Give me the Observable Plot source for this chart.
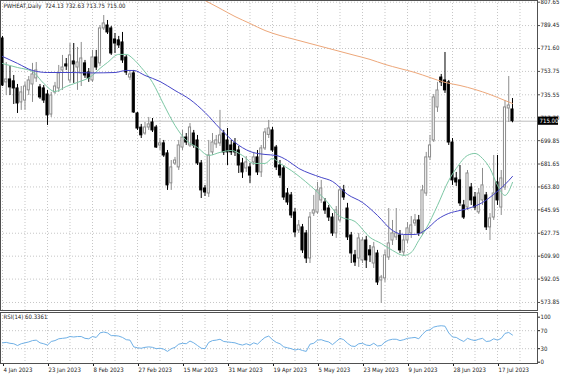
<!DOCTYPE html>
<html><head><meta charset="utf-8">
<script src="https://cdn.jsdelivr.net/npm/d3@7"></script>
<script src="https://cdn.jsdelivr.net/npm/@observablehq/plot@0.6"></script>
<style>
html,body{margin:0;padding:0;background:#fff;}
#chart{width:564px;height:376px;overflow:hidden;}
#chart svg{display:block;}
</style></head><body><div id="chart"></div><script>
// ---- data (bar index = trading day from 4 Jan 2023) ----
const open = [779.4,745.2,747.5,746.0,740.5,729.6,731.1,739.0,743.6,748.3,741.3,740.5,735.8,720.2,737.4,740.5,754.5,759.2,746.7,761.5,756.8,752.2,760.0,752.9,746.7,764.6,760.0,787.2,789.5,787.2,778.6,777.9,776.3,764.6,749.0,752.2,721.0,710.0,705.4,710.1,714.0,710.1,696.1,697.7,689.9,666.6,682.0,679.0,694.5,702.3,696.1,705.4,700.0,682.1,662.6,658.7,690.7,696.9,697.7,705.4,700.0,696.1,697.7,692.2,682.1,678.2,679.0,682.9,686.8,675.1,693.8,704.3,707.8,694.5,680.5,678.2,658.7,657.2,643.9,629.9,632.3,627.6,608.1,643.1,643.9,653.3,651.7,647.0,640.0,627.6,637.7,661.1,647.0,626.0,610.5,608.1,606.6,622.1,614.4,604.2,612.0,591.0,592.6,608.9,622.1,624.5,626.0,612.8,622.1,627.6,635.4,637.7,627.6,658.7,686.8,700.0,725.7,749.0,746.7,745.2,698.4,670.4,668.9,649.4,647.8,663.4,655.6,644.0,653.3,657.2,632.3,640.0,667.3,647.8,663.4,724.9,724.13];
const high = [781.0,760.7,757.6,750.6,743.6,742.0,745.2,749.8,760.0,760.7,743.6,742.8,739.0,737.4,745.2,758.4,766.2,763.8,775.5,775.5,772.4,776.3,762.3,756.0,770.1,770.1,789.5,797.3,793.4,788.8,783.3,781.0,784.1,766.2,754.5,754.5,721.8,712.5,714.0,717.9,717.1,711.7,701.5,700.0,692.2,684.4,686.8,700.0,707.8,705.4,713.2,707.8,703.9,684.4,665.0,700.0,705.4,703.9,723.4,707.8,709.3,700.0,701.5,695.3,686.0,687.5,682.1,690.7,692.2,696.1,709.3,715.6,710.1,696.1,684.4,680.5,662.6,659.5,647.0,637.7,634.6,629.9,643.9,657.2,667.3,668.9,654.8,649.4,643.1,648.6,664.2,665.0,651.0,628.4,614.4,627.6,624.5,625.3,618.2,620.6,614.4,594.9,614.4,647.0,637.7,647.0,629.9,626.0,636.1,640.8,642.4,641.6,665.0,690.7,703.9,735.8,745.2,751.4,768.5,746.7,701.5,675.1,680.5,653.3,676.6,666.5,659.5,662.6,678.2,659.5,643.1,688.3,688.3,676.6,731.1,749.8,732.63];
const low = [742.0,735.0,735.0,728.0,721.0,723.4,723.4,735.0,729.6,745.2,732.0,728.8,711.7,717.9,735.8,737.4,739.0,754.5,744.4,744.4,739.0,742.0,748.3,745.2,745.2,754.5,757.6,785.6,782.5,766.2,767.7,771.6,760.0,750.6,746.7,721.0,707.8,701.5,704.0,707.8,706.2,693.8,692.2,686.8,661.1,661.1,680.5,676.6,692.2,696.1,694.5,693.8,680.5,654.8,656.4,655.6,688.3,693.8,695.3,688.3,680.5,688.3,687.5,674.3,670.4,675.1,666.5,680.5,672.7,671.2,692.2,701.5,690.7,676.6,670.4,653.3,649.4,639.3,624.5,627.6,612.0,604.2,604.2,640.8,642.4,651.0,642.4,636.9,625.3,623.7,636.1,653.3,622.1,604.2,601.9,601.1,604.2,600.3,605.0,600.3,587.1,573.1,589.4,606.6,618.2,622.1,612.0,609.7,619.8,623.7,633.0,625.3,626.0,656.4,684.4,698.4,721.8,742.0,736.6,696.1,665.0,664.2,648.6,638.5,645.5,649.4,645.5,642.4,649.4,629.9,622.1,637.7,649.4,641.6,661.1,714.0,713.75];
const close = [742.8,747.5,741.3,740.5,728.8,737.4,742.0,746.7,751.4,754.5,733.5,731.1,719.5,735.0,742.0,752.2,756.8,757.6,766.2,759.2,760.7,763.8,750.6,748.3,764.6,756.8,787.2,791.1,784.1,767.7,775.5,774.0,762.3,752.9,751.4,721.8,709.3,704.0,710.1,712.5,707.8,694.5,697.7,688.3,665.0,679.0,684.4,696.1,702.3,698.4,710.1,696.1,682.1,661.1,659.5,688.3,698.4,700.0,703.9,690.7,690.7,690.7,690.7,680.5,675.1,682.9,672.7,686.8,675.1,693.8,706.2,709.3,692.2,679.0,672.7,655.6,651.7,641.6,628.4,633.8,614.4,608.1,640.0,645.5,661.1,662.6,645.5,640.0,627.6,645.5,661.1,655.6,624.5,612.0,605.0,623.7,622.1,606.6,610.5,616.7,589.4,593.3,610.5,619.8,627.6,627.6,614.4,622.1,631.5,633.8,637.7,627.6,661.1,686.8,696.1,733.5,738.9,745.2,739.0,698.4,668.9,667.3,651.0,640.0,674.3,653.3,647.8,658.7,665.0,632.3,639.3,658.7,653.3,670.4,725.7,727.2,715.00];

// moving averages, read at sample bars
const maBlueBar = [0,4,8,12,18,24,30,33,35,38,42,46,50,54,58,62,66,70,73,76,79,82,85,88,92,96,100,104,107,110,113,116,119,122,125,128,131,134,136];
const maBlueVal = [765.4,760.0,754.5,752.9,752.9,752.6,752.9,754.5,754.5,750.6,745.9,738.9,731.9,721.8,709.3,698.4,691.4,689.1,688.3,684.4,678.2,674.3,671.2,668.1,658.0,651.7,641.6,629.9,626.8,626.8,630.7,638.5,643.2,645.5,647.8,651.7,658.0,665.7,672.0];
const maGreenBar = [0,4,8,11,14,17,20,24,26,28,31,33,35,37,40,43,46,49,52,55,58,61,64,67,70,72,74,77,82,86,90,94,98,101,104,107,109,111,113,116,119,121,124,126,128,130,132,134,136];
const maGreenVal = [759.9,756.8,753.7,744.4,738.1,742.0,745.2,750.6,756.1,760.7,767.0,767.0,763.1,756.8,745.2,728.0,711.7,700.0,694.5,688.3,690.7,692.2,688.3,682.1,682.1,686.0,682.1,676.6,665.0,654.1,640.8,636.9,624.5,619.8,614.4,610.5,612.8,622.1,631.5,649.4,668.9,678.2,688.3,689.9,686.0,678.2,665.0,657.2,667.3];
const maOrangeBar = [50,54,58,62,66,70,74,78,82,86,90,94,98,102,106,110,114,118,122,126,130,134,136];
const maOrangeVal = [815.0,809.0,802.8,796.5,791.1,785.6,781.7,778.6,775.5,772.4,769.3,766.2,763.1,759.2,756.0,752.9,749.0,745.2,742.8,739.7,735.8,731.1,728.8];

const rsi = [43,44,42,41,37,41,43,45,48,49,43,41,38,46,48,52,53,54,57,56,57,57,53,52,57,55,65,67,65,59,59,58,55,50,49,34,32,31,33,34,33,30,31,29,24,30,33,40,42,41,47,43,37,31,30,44,48,49,51,46,45,44,43,40,38,41,38,43,40,48,55,58,50,44,41,34,32,30,27,29,26,24,40,42,49,50,47,45,39,46,53,50,42,36,35,41,42,38,37,42,36,37,45,49,51,51,48,50,53,54,55,52,62,70,72,78,80,81,80,65,56,55,50,46,53,50,48,51,53,46,47,52,49,53,64,66,60.3361];

const priceTicks = [807.65,789.45,771.60,753.75,735.55,717.70,699.85,681.65,663.80,645.95,627.75,609.90,592.05,573.85];
const rsiTicks = [100,70,30,0];
const rsiLevels = [70,30];
const dateBars = [0,12,24,36,48,60,72,84,96,108,120,132];
const dateLabels = ["4 Jan 2023","23 Jan 2023","8 Feb 2023","27 Feb 2023","15 Mar 2023","31 Mar 2023","19 Apr 2023","5 May 2023","23 May 2023","9 Jun 2023","28 Jun 2023","17 Jul 2023"];
const gridBars = d3.range(0, 142, 6);
const symbol = "PWHEAT,Daily";
const lastClose = close[close.length - 1];

// ---- build ----
const bars = open.map((o, i) => ({i, o, h: high[i], l: low[i], c: close[i], up: close[i] >= o}));
const pts = (bs, vs) => bs.map((b, k) => ({b, v: vs[k]}));
const FONT = "'DejaVu Sans Condensed','DejaVu Sans',sans-serif";
const xDomain = [-0.533, 142.667];
const dotted = {stroke: "#c6c6c6", strokeDasharray: "1,2", strokeWidth: 1};
const header = `${symbol}  ${open.at(-1).toFixed(2)} ${high.at(-1).toFixed(2)} ${low.at(-1).toFixed(2)} ${lastClose.toFixed(2)}`;
const xEnd = xDomain[1];

const main = Plot.plot({
  width: 564, height: 311,
  marginLeft: 0, marginRight: 27, marginTop: 0, marginBottom: 1,
  style: {fontFamily: FONT, fontSize: "6px", color: "#1a1a1a", background: "white", overflow: "visible"},
  x: {domain: xDomain, axis: null},
  y: {domain: [567.6, 808.97], axis: null},
  marks: [
    Plot.ruleY(priceTicks, dotted),
    Plot.ruleX(gridBars, dotted),
    Plot.ruleY([lastClose], {stroke: "#bdbdbd", strokeWidth: 1}),
    Plot.ruleX(bars, {x: "i", y1: "l", y2: "h", stroke: d => d.up ? "#8c8c8c" : "#000000", strokeWidth: 1}),
    Plot.rect(bars, {x1: d => d.i - 0.28, x2: d => d.i + 0.28, y1: "o", y2: "c",
      fill: d => d.up ? "#ffffff" : "#000000", stroke: d => d.up ? "#8c8c8c" : "#000000", strokeWidth: 1}),
    Plot.line(pts(maGreenBar, maGreenVal), {x: "b", y: "v", stroke: "#7cc7a4", strokeWidth: 1, curve: "monotone-x"}),
    Plot.line(pts(maBlueBar, maBlueVal), {x: "b", y: "v", stroke: "#4646c8", strokeWidth: 1, curve: "monotone-x"}),
    Plot.line(pts(maOrangeBar, maOrangeVal), {x: "b", y: "v", stroke: "#eda77a", strokeWidth: 1, curve: "monotone-x", clip: true}),
    Plot.axisY({anchor: "right", ticks: priceTicks, tickFormat: d => d.toFixed(2), tickSize: 2, tickPadding: 1, stroke: "#505050"}),
    Plot.frame({stroke: "#505050"}),
    Plot.text([header], {frameAnchor: "top-left", dx: 3, dy: 5.5, lineAnchor: "middle", textAnchor: "start", fill: "#1a1a1a"}),
    // current price marker in the right margin
    Plot.rect([lastClose], {x1: () => xEnd + 0.25, x2: () => xEnd + 5.6, y1: d => d - 3.2, y2: d => d + 3.2, fill: "#000000"}),
    Plot.text([lastClose], {x: () => xEnd + 0.55, y: d => d, textAnchor: "start", text: d => d.toFixed(2), fill: "white"})
  ]
});

const rsiPlot = Plot.plot({
  width: 564, height: 65,
  marginLeft: 0, marginRight: 27, marginTop: 1, marginBottom: 13,
  style: {fontFamily: FONT, fontSize: "6px", color: "#1a1a1a", background: "white", overflow: "visible"},
  x: {domain: xDomain, axis: null},
  y: {domain: [-2.9, 110.4], axis: null},
  marks: [
    Plot.ruleY(rsiLevels, dotted),
    Plot.ruleX(gridBars, dotted),
    Plot.line(rsi, {x: (d, i) => i, y: d => d, stroke: "#6fb0e6", strokeWidth: 1}),
    Plot.axisY({anchor: "right", ticks: rsiTicks, tickFormat: d => String(d), tickSize: 2, tickPadding: 1}),
    Plot.axisX({anchor: "bottom", ticks: dateBars, tickFormat: d => dateLabels[dateBars.indexOf(d)], textAnchor: "start", dx: 1, tickSize: 3, tickPadding: 1}),
    Plot.frame({stroke: "#505050"}),
    Plot.text([`RSI(14) ${rsi.at(-1).toFixed(4)}`], {frameAnchor: "top-left", dx: 3, dy: 4.7, lineAnchor: "middle", textAnchor: "start", fill: "#1a1a1a"})
  ]
});

const root = document.getElementById("chart");
root.appendChild(main);
root.appendChild(rsiPlot);
</script></body></html>
